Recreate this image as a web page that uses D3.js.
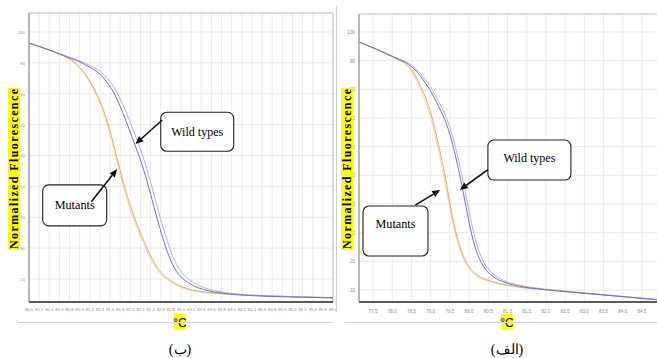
<!DOCTYPE html>
<html><head><meta charset="utf-8">
<script src="https://cdn.jsdelivr.net/npm/d3@7"></script>
<style>body{margin:0;background:#fff}svg{display:block}</style>
</head><body>
<script>
// ---------- DATA ----------
// Left panel (ب)
const leftTicksX = ["80.0","80.2","80.4","80.6","80.8","81.0","81.2","81.4","81.6","81.8","82.0","82.2","82.4","82.6","82.8","83.0","83.2","83.4","83.6","83.8","84.0","84.2","84.4","84.6","84.8","85.0","85.2","85.4","85.6","85.8","86.0"];
const leftTicksY = [100, 90, 80, 70, 60, 50, 40, 30, 20];
const leftTemp    = [80.0, 80.4, 80.8, 81.0, 81.2, 81.4, 81.55, 81.7, 81.9, 82.1, 82.25, 82.45, 82.6, 82.85, 83.1, 83.4, 84.0, 85.0, 86.0];
const leftWild1   = [96.4, 94.2, 91.6, 90.4, 88.6, 86.7, 83.6, 80.0, 72.0, 63.0, 56.5, 44.5, 35.0, 22.8, 19.0, 16.4, 14.8, 14.2, 13.9];
const leftWild2   = [96.4, 94.3, 91.8, 90.7, 89.2, 87.5, 85.0, 81.8, 75.0, 66.5, 60.0, 48.5, 39.0, 25.5, 20.2, 17.0, 15.0, 14.3, 14.0];
const leftMutant1 = [96.4, 94.2, 91.6, 88.8, 84.5, 78.0, 71.2, 61.8, 48.5, 38.8, 32.7, 25.7, 21.8, 18.7, 16.8, 15.8, 15.0, 14.4, 13.9];
const leftMutant2 = [96.4, 94.2, 91.5, 88.5, 84.0, 77.2, 70.0, 60.5, 47.0, 37.5, 31.5, 24.8, 21.2, 18.3, 16.5, 15.6, 14.9, 14.3, 13.9];

// Right panel (الف)
const rightTicksX = ["77.5","78.0","78.5","79.0","79.5","80.0","80.5","81.0","81.5","82.0","82.5","83.0","83.5","84.0","84.5"];
const rightTicksY = [100, 90, 80, 70, 60, 50, 40, 30, 20, 10];
const rightTemp    = [77.14, 77.7, 78.2, 78.5, 78.9, 79.06, 79.2, 79.35, 79.5, 79.65, 79.8, 79.95, 80.1, 80.3, 80.6, 81.2, 82.0, 83.4, 84.9];
const rightWild1   = [96.5, 93.4, 90.2, 88.7, 81.8, 78.0, 74.3, 70.2, 64.8, 56.7, 47.5, 37.0, 26.8, 19.2, 14.0, 11.3, 10.0, 8.4, 6.6];
const rightWild2   = [96.5, 93.5, 90.4, 89.1, 83.0, 79.5, 76.0, 72.2, 67.2, 59.8, 51.0, 41.0, 30.5, 21.0, 14.8, 11.6, 10.2, 8.5, 6.7];
const rightMutant1 = [96.5, 93.4, 90.2, 88.2, 76.6, 69.3, 61.0, 51.9, 40.2, 30.0, 23.2, 18.8, 16.2, 14.3, 12.8, 11.0, 10.1, 8.4, 6.6];
const rightMutant2 = [96.5, 93.3, 90.0, 87.6, 75.0, 67.5, 59.0, 49.5, 38.2, 28.5, 22.2, 18.1, 15.7, 14.0, 12.6, 10.9, 10.0, 8.3, 6.6];

const yTitle = "Normalized Fluorescence";
const xTitle = "°C";
const seriesColors = {wild1:"#6c68c2", wild2:"#b3aae2", mutant1:"#d8a86a", mutant2:"#efd9a0"};

// ---------- DRAW ----------
const W = 657, H = 358;
const svg = d3.select("body").append("svg").attr("width", W).attr("height", H);

function panel(cfg) {
  const x = d3.scaleLinear().domain(cfg.xDomain).range([cfg.left, cfg.right]);
  const y = d3.scaleLinear().domain(cfg.yDomain).range([cfg.bottom, cfg.top]);
  const g = svg.append("g");

  // grid
  g.append("g").selectAll("line").data(cfg.ticksX).join("line")
    .attr("x1", d => x(+d)).attr("x2", d => x(+d))
    .attr("y1", cfg.top).attr("y2", cfg.bottom)
    .attr("stroke", "#ececec").attr("stroke-width", 1);
  g.append("g").selectAll("line").data(cfg.ticksY).join("line")
    .attr("x1", cfg.left).attr("x2", cfg.right)
    .attr("y1", d => y(d)).attr("y2", d => y(d))
    .attr("stroke", "#e8e8e8").attr("stroke-width", 1);

  // frame
  g.append("line").attr("x1", cfg.left).attr("x2", cfg.right).attr("y1", cfg.top).attr("y2", cfg.top)
    .attr("stroke", "#bdbdbd").attr("stroke-width", 1.2);
  if (cfg.rightBorder) g.append("line").attr("x1", cfg.right).attr("x2", cfg.right).attr("y1", cfg.top).attr("y2", cfg.bottom)
    .attr("stroke", "#c8c8c8").attr("stroke-width", 1.2);
  g.append("line").attr("x1", cfg.left).attr("x2", cfg.left).attr("y1", cfg.top).attr("y2", cfg.bottom)
    .attr("stroke", "#8a8a8a").attr("stroke-width", 1.2);

  // curves
  const line = d3.line().x(d => x(d[0])).y(d => y(d[1])).curve(d3.curveBasis);
  cfg.series.forEach(s => {
    const pts = cfg.temp.map((t, i) => [t, s.values[i]]);
    g.append("path").datum(pts).attr("d", line)
      .attr("fill", "none").attr("stroke", s.color).attr("stroke-width", 0.95);
  });

  // bottom axis line
  g.append("line").attr("x1", cfg.left).attr("x2", cfg.right).attr("y1", cfg.bottom).attr("y2", cfg.bottom)
    .attr("stroke", "#5a5a5a").attr("stroke-width", 2);

  // tick labels
  g.append("g").selectAll("text").data(cfg.ticksX).join("text")
    .attr("x", d => x(+d)).attr("y", cfg.bottom + cfg.xLabelDy)
    .attr("text-anchor", "middle").attr("font-family", "Liberation Sans, Arial, sans-serif")
    .attr("font-size", cfg.tickFont).attr("fill", "#8a8a8a").text(d => d);
  g.append("g").selectAll("text").data(cfg.ticksY).join("text")
    .attr("x", cfg.left - 4).attr("y", d => y(d) + 2)
    .attr("text-anchor", "end").attr("font-family", "Liberation Sans, Arial, sans-serif")
    .attr("font-size", cfg.tickFont).attr("fill", "#8a8a8a").text(d => d);

  // y title with yellow highlight
  const yt = g.append("g").attr("transform", `translate(${cfg.yTitleX},${cfg.yTitleY}) rotate(-90)`);
  yt.append("rect").attr("x", -81).attr("y", -9).attr("width", 162).attr("height", 12).attr("fill", "#ffff00");
  yt.append("text").attr("x", 0).attr("y", 1).attr("text-anchor", "middle")
    .attr("font-family", "Liberation Serif, Times New Roman, serif").attr("font-weight", "bold")
    .attr("font-size", 12).attr("textLength", 160).attr("lengthAdjust", "spacing").text(yTitle);

  // x title
  const xtX = cfg.xTitleX;
  g.append("rect").attr("x", xtX - 6).attr("y", 314).attr("width", 12).attr("height", 15).attr("fill", "#ffff00");
  g.append("text").attr("x", xtX).attr("y", 327).attr("text-anchor", "middle")
    .attr("font-family", "Liberation Sans, Arial, sans-serif").attr("font-size", 12).text(xTitle);

  // caption
  g.append("text").attr("x", xtX).attr("y", 354).attr("text-anchor", "middle")
    .attr("font-family", "Liberation Serif, Times New Roman, serif").attr("font-size", 14)
    .text(cfg.caption);

  // panel underline
  g.append("line").attr("x1", cfg.frameL).attr("x2", cfg.frameR).attr("y1", 322.5).attr("y2", 322.5)
    .attr("stroke", "#d4d4d4").attr("stroke-width", 1);

  // annotations
  cfg.notes.forEach(n => {
    const bx = x(n.box[0]), by = y(n.box[1]);
    g.append("rect").attr("x", bx).attr("y", by).attr("width", n.w).attr("height", n.h)
      .attr("rx", 6).attr("fill", "#fff").attr("stroke", "#222").attr("stroke-width", 1.1);
    g.append("text").attr("x", bx + n.w / 2).attr("y", by + n.ty).attr("text-anchor", "middle")
      .attr("font-family", "Liberation Serif, Times New Roman, serif").attr("font-size", 13)
      .attr("textLength", n.tl).attr("lengthAdjust", "spacingAndGlyphs").text(n.label);
    const x1 = x(n.from[0]), y1 = y(n.from[1]), x2 = x(n.to[0]), y2 = y(n.to[1]);
    const ang = Math.atan2(y2 - y1, x2 - x1);
    const L = 8, Wd = 3.5;
    const bxp = x2 - L * Math.cos(ang), byp = y2 - L * Math.sin(ang);
    g.append("line").attr("x1", x1).attr("y1", y1).attr("x2", bxp).attr("y2", byp)
      .attr("stroke", "#111").attr("stroke-width", 1.6);
    g.append("path").attr("d", `M${x2},${y2} L${bxp + Wd * Math.sin(ang)},${byp - Wd * Math.cos(ang)} L${bxp - Wd * Math.sin(ang)},${byp + Wd * Math.cos(ang)} Z`)
      .attr("fill", "#111");
  });
}

panel({
  left: 29, right: 333, top: 13, bottom: 302,
  xDomain: [80.0, 86.0], yDomain: [12.55, 106.15],
  ticksX: leftTicksX, ticksY: leftTicksY, tickFont: 4.2, xLabelDy: 9,
  temp: leftTemp,
  series: [
    {values: leftMutant2, color: seriesColors.mutant2},
    {values: leftMutant1, color: seriesColors.mutant1},
    {values: leftWild2, color: seriesColors.wild2},
    {values: leftWild1, color: seriesColors.wild1}
  ],
  rightBorder: true,
  yTitleX: 17, yTitleY: 169, xTitleX: 180, caption: "(ب)",
  frameL: 18, frameR: 333,
  notes: [
    {label: "Wild types", box: [82.6, 74.0], w: 73, h: 39, ty: 24, tl: 52, from: [82.63, 71.5], to: [82.1, 63.7]},
    {label: "Mutants", box: [80.27, 50.5], w: 64, h: 41, ty: 24, tl: 40, from: [81.23, 45.0], to: [81.74, 55.6]}
  ]
});

panel({
  left: 359, right: 657, top: 14, bottom: 302,
  xDomain: [77.136, 84.89], yDomain: [5.81, 106.28],
  ticksX: rightTicksX, ticksY: rightTicksY, tickFont: 4.6, xLabelDy: 11,
  temp: rightTemp,
  series: [
    {values: rightMutant2, color: seriesColors.mutant2},
    {values: rightMutant1, color: seriesColors.mutant1},
    {values: rightWild2, color: seriesColors.wild2},
    {values: rightWild1, color: seriesColors.wild1}
  ],
  rightBorder: false,
  yTitleX: 350, yTitleY: 169, xTitleX: 507, caption: "(الف)",
  frameL: 345, frameR: 657,
  notes: [
    {label: "Wild types", box: [80.49, 62.3], w: 83, h: 40, ty: 22, tl: 52, from: [80.49, 52.0], to: [79.76, 44.9]},
    {label: "Mutants", box: [77.24, 39.3], w: 65, h: 50, ty: 22, tl: 40, from: [78.6, 39.6], to: [79.25, 44.9]}
  ]
});

// divider between panels
svg.append("line").attr("x1", 336.5).attr("x2", 336.5).attr("y1", 6).attr("y2", 312)
  .attr("stroke", "#d0d0d0").attr("stroke-width", 1);
</script>
</body></html>
